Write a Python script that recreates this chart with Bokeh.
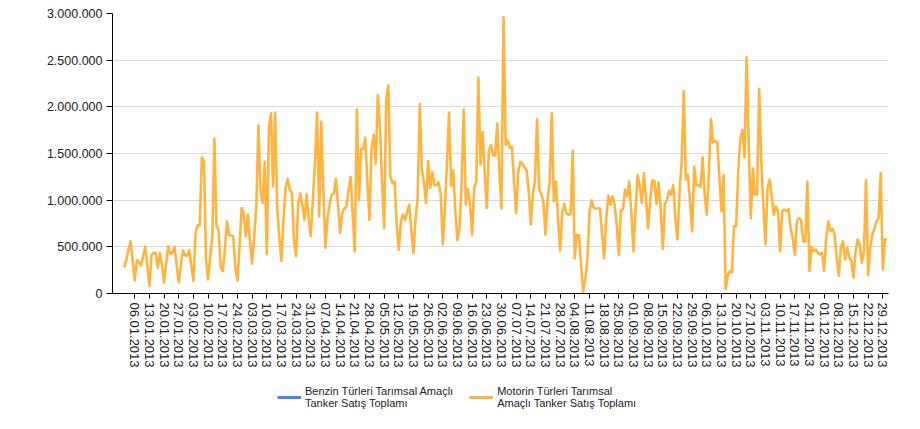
import pandas as pd
from bokeh.plotting import figure
from bokeh.layouts import column
from bokeh.models import (Range1d, FixedTicker, DatetimeTickFormatter, Legend,
                          LegendItem, ColumnDataSource)
from bokeh.embed import file_html
from bokeh.resources import INLINE

# ---------------- data ----------------
dates = pd.date_range("2013-01-01", "2013-12-31", freq="D")

motorin = [
    277000, 365000, 470000, 560000, 350000, 140000, 355000, 340000, 300000, 400000,
    500000, 300000, 80000, 410000, 435000, 435000, 275000, 435000, 300000, 117000,
    330000, 507000, 420000, 440000, 500000, 300000, 117000, 300000, 460000, 410000,
    400000, 465000, 300000, 135000, 650000, 730000, 730000, 1460000, 1420000, 365000,
    150000, 400000, 600000, 1660000, 720000, 685000, 277000, 240000, 470000, 773000,
    630000, 620000, 613000, 277000, 140000, 500000, 915000, 860000, 613000, 845000,
    550000, 320000, 620000, 930000, 1800000, 1110000, 970000, 1410000, 420000, 1770000,
    1930000, 1150000, 1940000, 900000, 600000, 350000, 800000, 1130000, 1230000, 1110000,
    1080000, 560000, 400000, 970000, 1070000, 950000, 790000, 1060000, 800000, 613000,
    1000000, 1400000, 1940000, 826000, 1840000, 1100000, 490000, 810000, 950000, 1060000,
    1070000, 1230000, 950000, 650000, 860000, 910000, 930000, 1100000, 1250000, 850000,
    450000, 1970000, 1000000, 1550000, 1550000, 1670000, 1200000, 790000, 1550000, 1700000,
    1390000, 2130000, 1780000, 1200000, 700000, 2070000, 2230000, 1250000, 1180000, 1200000,
    740000, 470000, 773000, 845000, 790000, 870000, 950000, 670000, 435000, 800000,
    1020000, 2030000, 1340000, 1200000, 970000, 1420000, 1130000, 1300000, 1160000, 1160000,
    1190000, 1070000, 525000, 900000, 1400000, 1940000, 1150000, 1320000, 880000, 570000,
    700000, 1200000, 1970000, 950000, 1120000, 950000, 630000, 1130000, 1200000, 2310000,
    1380000, 1730000, 1300000, 915000, 1530000, 1590000, 1480000, 1480000, 1820000, 1300000,
    910000, 2960000, 1590000, 1640000, 1560000, 1570000, 1200000, 860000, 1300000, 1410000,
    1390000, 1350000, 1320000, 1100000, 740000, 1070000, 1200000, 1870000, 1110000, 1070000,
    985000, 630000, 1000000, 1200000, 1930000, 990000, 1200000, 810000, 460000, 860000,
    960000, 860000, 845000, 850000, 1530000, 375000, 625000, 625000, 310000, 20000,
    150000, 350000, 860000, 1000000, 920000, 910000, 910000, 910000, 650000, 375000,
    800000, 1050000, 950000, 1040000, 950000, 740000, 410000, 880000, 910000, 1110000,
    1040000, 1200000, 850000, 450000, 900000, 1270000, 1160000, 970000, 1290000, 1000000,
    700000, 1000000, 1210000, 1210000, 960000, 1190000, 900000, 480000, 960000, 1000000,
    1100000, 1060000, 1160000, 800000, 578000, 1090000, 1410000, 2170000, 1220000, 1270000,
    986000, 667000, 1360000, 1160000, 1160000, 1140000, 1460000, 1060000, 844000, 1300000,
    1870000, 1620000, 1640000, 1620000, 1250000, 880000, 1270000, 46000, 190000, 240000,
    225000, 720000, 720000, 1300000, 1660000, 1750000, 1460000, 2530000, 1590000, 808000,
    1340000, 1060000, 1060000, 2190000, 1410000, 950000, 525000, 1130000, 1220000, 1040000,
    844000, 933000, 880000, 454000, 880000, 897000, 880000, 908000, 702000, 596000,
    411000, 773000, 808000, 790000, 560000, 553000, 1200000, 241000, 500000, 454000,
    472000, 436000, 418000, 436000, 241000, 596000, 773000, 667000, 695000, 631000,
    383000, 188000, 489000, 560000, 365000, 489000, 383000, 348000, 170000, 454000,
    578000, 525000, 330000, 454000, 1216000, 199000, 489000, 631000, 695000, 773000,
    808000, 1287000, 259000, 578000, 578000,
]
assert len(motorin) == len(dates)

benzin = []   # no visible values; series appears only in the legend

series_names = ["Benzin Türleri Tarımsal Amaçlı\nTanker Satış Toplamı",
                "Motorin Türleri Tarımsal\nAmaçlı Tanker Satış Toplamı"]
series_colors = ["#4285f4", "#ffb43f"]

y_ticks = [0, 500000, 1000000, 1500000, 2000000, 2500000, 3000000]
y_tick_labels = ["0", "500.000", "1.000.000", "1.500.000", "2.000.000", "2.500.000", "3.000.000"]
x_tick_dates = pd.date_range("2013-01-06", "2013-12-29", freq="7D")

# ---------------- main figure ----------------
def ms(ts):
    return ts.value / 1e6

day_ms = 86400000.0
x_start = ms(dates[0]) - 5.63 * day_ms
x_end = ms(dates[0]) + 364.72 * day_ms

p = figure(width=918, height=380, output_backend="svg", toolbar_location=None,
           x_range=Range1d(x_start, x_end), y_range=Range1d(0, 3000000),
           min_border_left=112, min_border_right=30, min_border_top=13,
           min_border_bottom=87, outline_line_color=None,
           background_fill_color="white", border_fill_color="white")

src_m = ColumnDataSource(dict(x=list(dates), y=motorin))
p.line("x", "y", source=src_m, line_color=series_colors[1], line_width=2.6,
       line_join="round")

# y axis
p.yaxis.ticker = FixedTicker(ticks=y_ticks)
p.yaxis.major_label_overrides = dict(zip(y_ticks, y_tick_labels))
p.yaxis.minor_tick_line_color = None
p.yaxis.major_tick_in = 0
p.yaxis.major_tick_out = 6
p.yaxis.axis_line_color = "black"
p.yaxis.major_tick_line_color = "black"
p.yaxis.major_label_text_font = "Liberation Sans"
p.yaxis.major_label_text_font_size = "12.5px"
p.yaxis.major_label_text_color = "#222222"
p.yaxis.major_label_standoff = 4

# x axis
fmt = "%d.%m.%Y"
p.xaxis.ticker = FixedTicker(ticks=[ms(t) for t in x_tick_dates])
p.xaxis.formatter = DatetimeTickFormatter(days=fmt, months=fmt, years=fmt, hours=fmt,
                                          hourmin=fmt, minutes=fmt, minsec=fmt,
                                          seconds=fmt, milliseconds=fmt,
                                          microseconds=fmt)
p.xaxis.major_label_orientation = "vertical"
p.xaxis.minor_tick_line_color = None
p.xaxis.major_tick_in = 0
p.xaxis.major_tick_out = 5
p.xaxis.axis_line_color = "black"
p.xaxis.major_tick_line_color = "black"
p.xaxis.major_label_text_font = "Liberation Sans"
p.xaxis.major_label_text_font_size = "13px"
p.xaxis.major_label_text_color = "#222222"
p.xaxis.major_label_standoff = 4

# grid
p.xgrid.visible = False
p.ygrid.grid_line_color = "#d9d9d9"
p.ygrid.grid_line_width = 1

# ---------------- legend strip ----------------
pl = figure(width=918, height=47, output_backend="svg", toolbar_location=None,
            x_range=Range1d(0, 1), y_range=Range1d(0, 1),
            x_axis_location=None, y_axis_location=None,
            min_border=0, outline_line_color=None,
            background_fill_color="white", border_fill_color="white")
pl.grid.visible = False

nan = float("nan")
leg_renderers = [pl.line(x=[nan], y=[nan], line_color=c, line_width=3)
                 for c in series_colors]

legend = Legend(items=[LegendItem(label=n, renderers=[r])
                       for n, r in zip(series_names, leg_renderers)],
                orientation="horizontal", location=(165, 18),
                label_text_font="Liberation Sans", label_text_font_size="11px",
                label_text_color="#222222", glyph_width=24, glyph_height=14,
                label_standoff=4, spacing=16, padding=4, margin=0,
                border_line_color=None, background_fill_alpha=0)
pl.add_layout(legend, "center")

layout = column(p, pl, spacing=0)
open("out.html", "w").write(file_html(layout, INLINE))
